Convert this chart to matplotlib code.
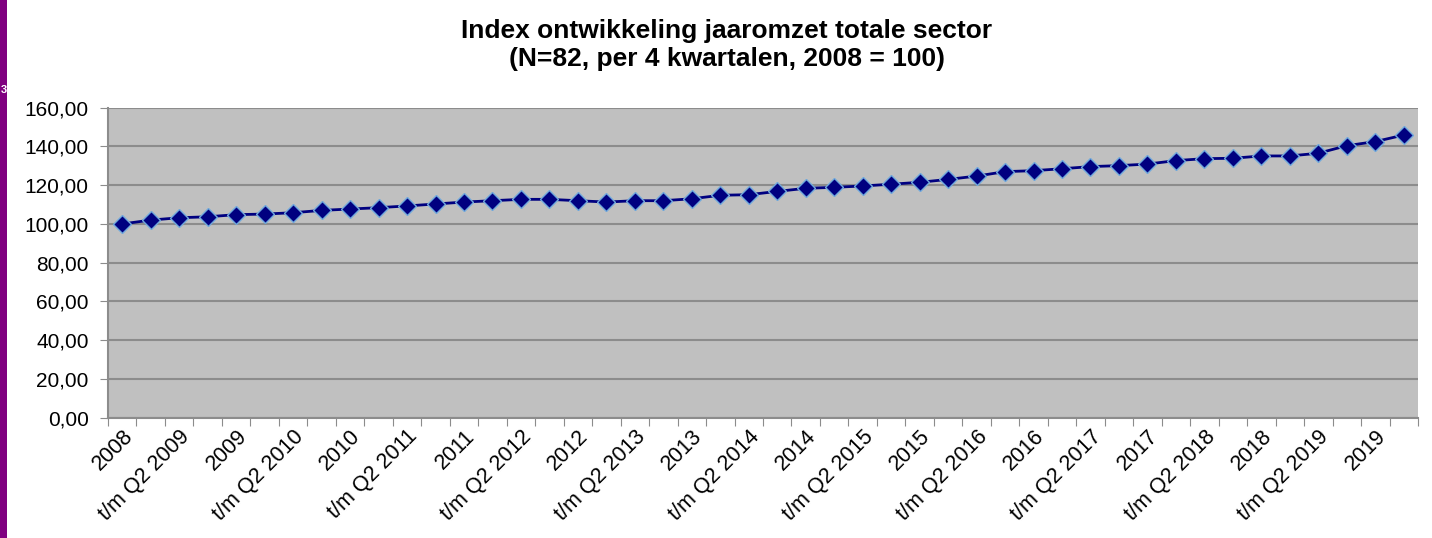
import matplotlib
matplotlib.use("Agg")
import matplotlib.pyplot as plt
from matplotlib.patches import Rectangle

plt.rcParams['font.family'] = ['Liberation Sans', 'DejaVu Sans']

# categories: Q4 2008 .. Q1 2020 (rolling 4 quarters)
quarters = []
for yr in range(2009, 2021):
    for q in (1, 2, 3, 4):
        quarters.append((yr, q))
labels = ["2008"]
for yr, q in quarters:
    if q == 4:
        labels.append(str(yr))
    else:
        labels.append("t/m Q%d %d" % (q, yr))
labels = labels[:46]

index_values = [100.0, 102.0, 103.2, 103.7, 104.8, 105.1, 105.8, 107.0, 107.7, 108.4,
                109.3, 110.3, 111.3, 112.0, 112.7, 112.7, 112.0, 111.3, 112.0, 112.0,
                113.0, 114.8, 115.1, 116.8, 118.4, 118.9, 119.6, 120.5, 121.5, 123.0,
                124.7, 127.0, 127.5, 128.5, 129.6, 130.1, 130.9, 132.7, 133.7, 133.9,
                135.1, 135.1, 136.5, 140.4, 142.5, 145.9]

yticks = [0, 20, 40, 60, 80, 100, 120, 140, 160]

fig = plt.figure(figsize=(14.32, 5.38), dpi=100)
ax = fig.add_axes([108/1432, 1 - 417.7/538, 1310/1432, 310/538])

x = list(range(len(index_values)))
ax.plot(x, index_values, color='#000080', linewidth=2.0, marker='D',
        markersize=9, markerfacecolor='#000080', markeredgecolor='#6fa8dc',
        markeredgewidth=1.0, zorder=3)

ax.set_facecolor('#c0c0c0')
ax.set_xlim(-0.5, len(index_values) - 0.5)
ax.set_ylim(0, 160)
ax.set_yticks(yticks)
ax.set_yticklabels(["%d,00" % v for v in yticks], fontsize=15)
ax.yaxis.grid(True, color='#8c8c8c', linewidth=1.5)
ax.set_axisbelow(True)

# tick marks between categories, label every second category
ax.set_xticks([i - 0.5 for i in range(len(index_values) + 1)], minor=False)
ax.set_xticklabels([])
ax.set_xticks(x[::2], minor=True)
ax.set_xticklabels(labels[::2], minor=True, rotation=45, ha='right',
                   rotation_mode='anchor', fontsize=15.5)
ax.tick_params(axis='x', which='minor', length=0, pad=6)
ax.tick_params(axis='x', which='major', length=6, color='#8c8c8c')
ax.tick_params(axis='y', length=6, color='#8c8c8c', pad=8)

for side in ('top', 'right'):
    ax.spines[side].set_visible(False)
for side in ('left', 'bottom'):
    ax.spines[side].set_color('#8c8c8c')
    ax.spines[side].set_linewidth(1.5)

fig.text(727/1432, 1 - 19/538,
         "Index ontwikkeling jaaromzet totale sector\n(N=82, per 4 kwartalen, 2008 = 100)",
         ha='center', va='top', fontsize=19, fontweight='bold', linespacing=1.2)

# purple side bar from the slide
fig.patches.append(Rectangle((0, 0), 7/1432, 1, transform=fig.transFigure,
                             facecolor='#800080', edgecolor='none'))
fig.text(0.5/1432, 1 - 90/538, "3", color='white', fontsize=8, fontweight='bold',
         ha='left', va='center')

fig.savefig("out.png", dpi=100)
